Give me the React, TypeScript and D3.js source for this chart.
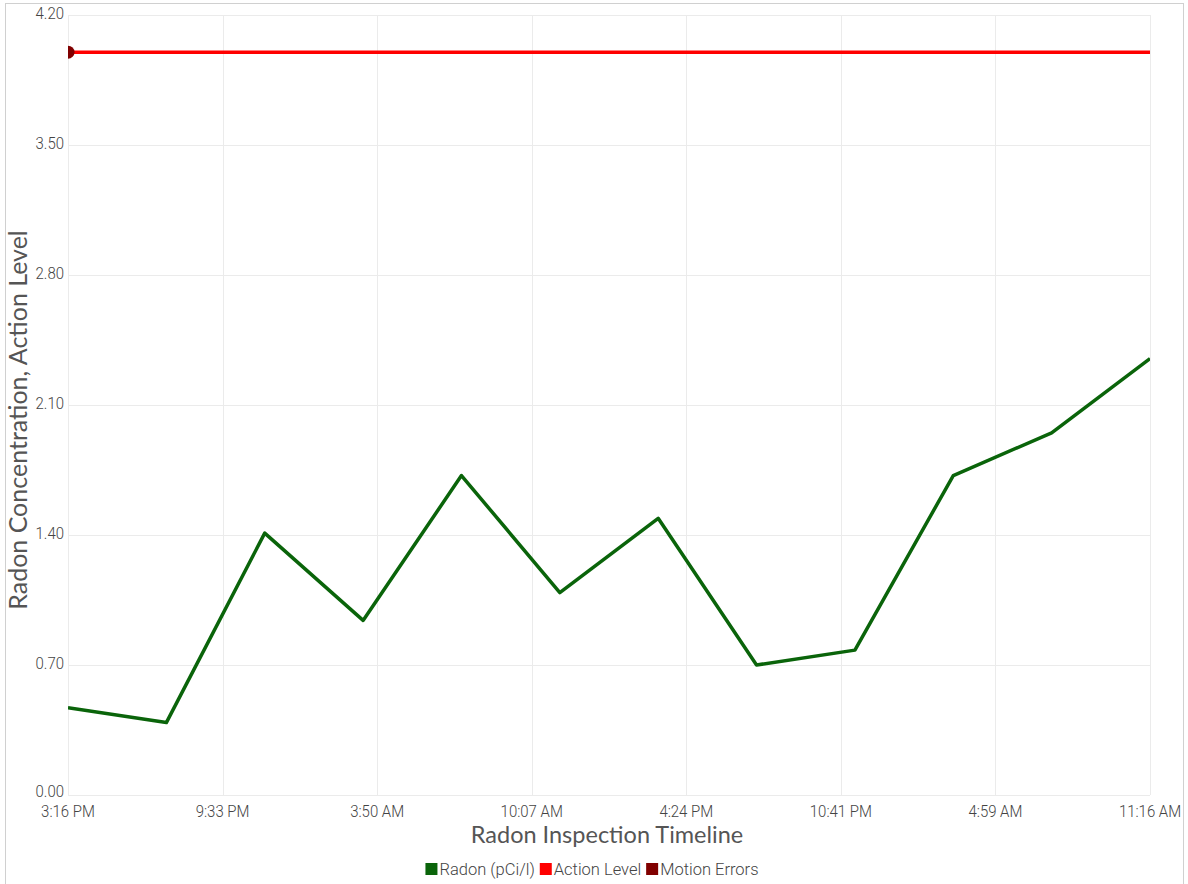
import { useRef, useEffect } from 'react'
import * as d3 from 'd3';

// hours since first reading
const readingHours = [0, 4, 8, 12, 16, 20, 24, 28, 32, 36, 40, 44];
const radonValues = [0.47, 0.39, 1.41, 0.94, 1.72, 1.09, 1.49, 0.70, 0.78, 1.72, 1.95, 2.35];
const actionLevel = [4.0, 4.0];
const actionHours = [0, 44];
const motionErrors = [{ h: 0, v: 4.0 }];

const xTickLabels = ['3:16 PM', '9:33 PM', '3:50 AM', '10:07 AM', '4:24 PM', '10:41 PM', '4:59 AM', '11:16 AM'];
const yTicks = [0, 0.7, 1.4, 2.1, 2.8, 3.5, 4.2];

const legendItems = [
    { label: 'Radon (pCi/l)', color: '#0a640a' },
    { label: 'Action Level', color: '#ff0000' },
    { label: 'Motion Errors', color: '#800000' },
];

function App() {
    const ref = useRef(null);
    const width = 1188;
    const height = 884;

    useEffect(() => {
        const marginLeft = 68;
        const marginRight = 38;
        const marginTop = 15;
        const marginBottom = 89;
        const tickFont = 'Roboto, sans-serif';
        const titleFont = 'Lato, "Open Sans", sans-serif';

        const svg = d3.select(ref.current);
        svg.selectAll('*').remove();

        // outer border
        svg.append('rect')
           .attr('x', 5.5).attr('y', 3.5)
           .attr('width', width - 10).attr('height', height)
           .attr('fill', '#fff').attr('stroke', '#d0d0d0');

        const x = d3.scaleLinear()
                    .domain([0, 44])
                    .range([marginLeft, width - marginRight]);
        const y = d3.scaleLinear()
                    .domain([0, 4.2])
                    .range([height - marginBottom, marginTop]);

        const tickHours = xTickLabels.map((_, i) => i * 44 / (xTickLabels.length - 1));

        // grid
        const grid = svg.append('g').attr('stroke', '#ebebeb').attr('stroke-width', 1);
        grid.selectAll('line.h').data(yTicks).join('line')
            .attr('x1', marginLeft).attr('x2', width - marginRight)
            .attr('y1', d => Math.round(y(d)) + 0.5).attr('y2', d => Math.round(y(d)) + 0.5);
        grid.selectAll('line.v').data(tickHours).join('line')
            .attr('class', 'v')
            .attr('x1', d => Math.round(x(d)) + 0.5).attr('x2', d => Math.round(x(d)) + 0.5)
            .attr('y1', marginTop).attr('y2', height - marginBottom);

        // y tick labels (condensed a little)
        svg.append('g').selectAll('text').data(yTicks).join('text')
           .attr('transform', d => `translate(${marginLeft - 4},${y(d) - (d === 0 ? 4 : 2)}) scale(0.88,1)`)
           .attr('dy', '0.35em')
           .attr('text-anchor', 'end')
           .attr('font-family', tickFont)
           .attr('font-weight', 300)
           .attr('font-size', 17)
           .attr('fill', '#444')
           .text(d => d.toFixed(2));

        // x tick labels
        svg.append('g').selectAll('text').data(tickHours).join('text')
           .attr('transform', d => `translate(${x(d)},${height - marginBottom + 16}) scale(0.88,1)`)
           .attr('dy', '0.35em')
           .attr('text-anchor', 'middle')
           .attr('font-family', tickFont)
           .attr('font-weight', 300)
           .attr('font-size', 17)
           .attr('fill', '#444')
           .text((d, i) => xTickLabels[i]);

        // axis titles
        svg.append('text')
           .attr('x', (marginLeft + width - marginRight) / 2 - 2)
           .attr('y', 843)
           .attr('text-anchor', 'middle')
           .attr('font-family', titleFont)
           .attr('font-size', 23.5)
           .attr('fill', '#555')
           .text('Radon Inspection Timeline');
        svg.append('text')
           .attr('transform', `translate(27,${(marginTop + height - marginBottom) / 2 + 15}) rotate(-90)`)
           .attr('text-anchor', 'middle')
           .attr('font-family', titleFont)
           .attr('font-size', 25)
           .attr('fill', '#555')
           .text('Radon Concentration, Action Level');

        // clip
        svg.append('clipPath').attr('id', 'plot-clip')
           .append('rect')
           .attr('x', marginLeft).attr('y', marginTop)
           .attr('width', width - marginLeft - marginRight)
           .attr('height', height - marginTop - marginBottom);

        const plot = svg.append('g').attr('clip-path', 'url(#plot-clip)');

        const line = d3.line<number>()
                       .x((d, i) => x(readingHours[i]))
                       .y(d => y(d));

        plot.append('path')
            .attr('d', line(radonValues))
            .attr('fill', 'none')
            .attr('stroke', legendItems[0].color)
            .attr('stroke-width', 3.5)
            .attr('stroke-linejoin', 'round');

        const actionLine = d3.line<number>()
                             .x((d, i) => x(actionHours[i]))
                             .y(d => y(d));
        plot.append('path')
            .attr('d', actionLine(actionLevel))
            .attr('fill', 'none')
            .attr('stroke', legendItems[1].color)
            .attr('stroke-width', 3.5);

        plot.selectAll('circle').data(motionErrors).join('circle')
            .attr('cx', d => x(d.h))
            .attr('cy', d => y(d.v))
            .attr('r', 6.5)
            .attr('fill', legendItems[2].color);

        // legend
        const legend = svg.append('g').attr('font-family', tickFont).attr('font-weight', 300)
                          .attr('font-size', 16.5).attr('fill', '#444');
        let lx = 0;
        const items = legend.selectAll('g').data(legendItems).join('g');
        items.append('rect')
             .attr('width', 12).attr('height', 12)
             .attr('y', -6)
             .attr('fill', d => d.color);
        items.append('text')
             .attr('x', 14)
             .attr('dy', '0.35em')
             .text(d => d.label);
        items.each(function () {
            const g = d3.select(this);
            g.attr('transform', `translate(${lx},0)`);
            lx += (this as SVGGElement).getBBox().width + 5;
        });
        const legendWidth = lx - 5;
        legend.attr('transform', `translate(${(width - legendWidth) / 2 - 2},869)`);
    }, []);

    return (
        <svg ref={ref} width={width} height={height}
             style={{ position: 'absolute', left: 0, top: 0, background: '#fff' }} />
    );
}

export default App;
